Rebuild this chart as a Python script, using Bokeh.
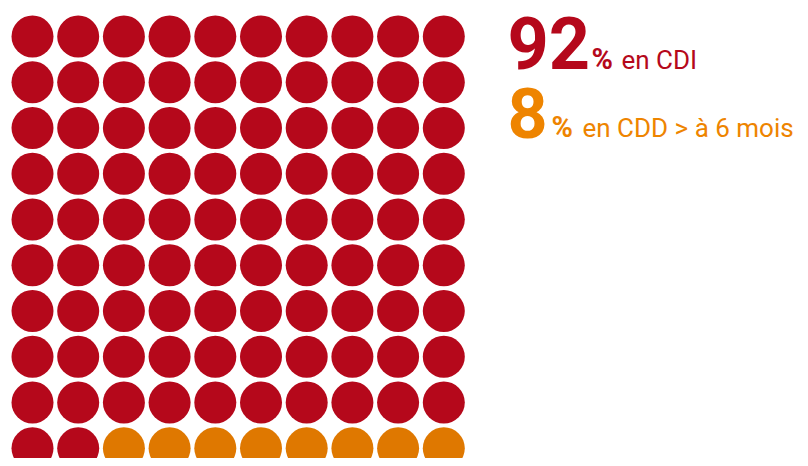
from bokeh.plotting import figure
from bokeh.models import ColumnDataSource, Range1d
from bokeh.embed import file_html
from bokeh.resources import INLINE
from bokeh.core.properties import value

# Data
categories = ["CDI", "CDD > à 6 mois"]
percentages = [92, 8]
labels = ["en CDI", "en CDD > à 6 mois"]
colors_dots = ["#B5081B", "#DF7800"]
colors_text = ["#B5081B", "#EE8400"]

W, H = 800, 458
p = figure(width=W, height=H, output_backend="svg", toolbar_location=None,
           x_range=Range1d(0, W), y_range=Range1d(H, 0), min_border=0,
           match_aspect=False)
p.axis.visible = False
p.grid.visible = False
p.outline_line_color = None
p.background_fill_color = "white"

# waffle grid 10x10
xs, ys, cs = [], [], []
idx = 0
for cat_i, n in enumerate(percentages):
    for _ in range(n):
        row, col = divmod(idx, 10)
        xs.append(32 + col * 45.7)
        ys.append(36 + row * 45.75)
        cs.append(colors_dots[cat_i])
        idx += 1
src = ColumnDataSource(dict(x=xs, y=ys, c=cs))
p.circle(x="x", y="y", radius=21, fill_color="c", line_color=None, source=src)

# texts
font = value("Roboto")
big_y = [42, 112]
big_size = ["72px", "70px"]
small_y = [59, 127]
pct_x = [591, 551]
lab_x = [621, 582]
for i in range(2):
    p.text(x=[507], y=[big_y[i]], text=[str(percentages[i])], text_font=font,
           text_font_style="bold", text_font_size=big_size[i],
           text_color=colors_text[i], text_baseline="alphabetic", text_align="left")
    p.text(x=[pct_x[i]], y=[small_y[i] - 1], text=["%"], text_font=font,
           text_font_style="bold", text_font_size="29px",
           text_color=colors_text[i], text_baseline="alphabetic", text_align="left")
    p.text(x=[lab_x[i]], y=[small_y[i]], text=[labels[i]], text_font=font,
           text_font_size="26px",
           text_color=colors_text[i], text_baseline="alphabetic", text_align="left")

open("out.html", "w").write(file_html(p, INLINE))
